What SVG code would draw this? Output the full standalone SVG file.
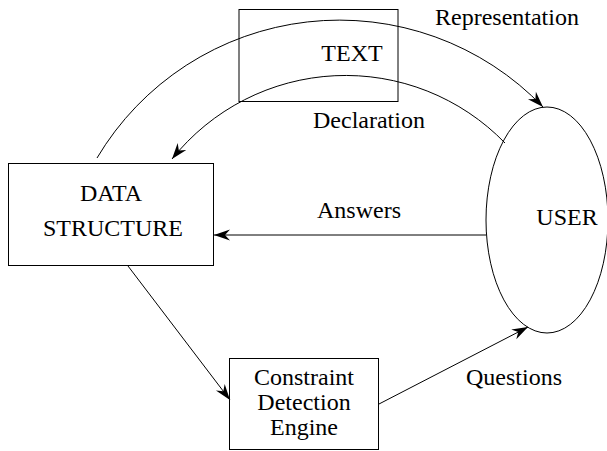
<svg xmlns="http://www.w3.org/2000/svg" width="607" height="451" viewBox="0 0 607 451">
<style>
.box{fill:none;stroke:#000;stroke-width:1}
.conn{fill:none;stroke:#000;stroke-width:1}
text{font-family:"Liberation Serif","Times New Roman",serif;font-size:24px;fill:#000}
</style>
<defs>
<marker id="arr" markerUnits="userSpaceOnUse" markerWidth="18" markerHeight="12" viewBox="-17 -6 18 12" refX="0" refY="0" orient="auto">
<path d="M0,0 L-16,-5.5 L-11,0 L-16,5.5 Z" fill="#000"/>
</marker>
</defs>
<rect width="607" height="451" fill="#fff"/>
<g id="text-node">
<rect class="box" x="239" y="9.5" width="159" height="92"/>
<text x="352" y="61" text-anchor="middle">TEXT</text>
</g>
<g id="data-structure">
<rect class="box" x="8.5" y="163.5" width="205" height="102"/>
<text x="111" y="201" text-anchor="middle">DATA</text>
<text x="113" y="236" text-anchor="middle">STRUCTURE</text>
</g>
<g id="user">
<ellipse class="box" cx="547" cy="220" rx="61" ry="113"/>
<text x="567" y="225" text-anchor="middle">USER</text>
</g>
<g id="constraint-engine">
<rect class="box" x="229.5" y="358.5" width="149" height="91"/>
<text x="304" y="385" text-anchor="middle">Constraint</text>
<text x="304" y="410" text-anchor="middle">Detection</text>
<text x="304" y="435" text-anchor="middle">Engine</text>
</g>
<g id="connectors">
<path class="conn" d="M97,158 A282,282 0 0 1 543,107" marker-end="url(#arr)"/>
<path class="conn" d="M505,143 A222,222 0 0 0 172,159" marker-end="url(#arr)"/>
<path class="conn" d="M486,235 L214,235" marker-end="url(#arr)"/>
<path class="conn" d="M128,266 L230,400" marker-end="url(#arr)"/>
<path class="conn" d="M379,404 L528,327" marker-end="url(#arr)"/>
<text x="435" y="25">Representation</text>
<text x="313" y="128">Declaration</text>
<text x="317" y="218">Answers</text>
<text x="466" y="385">Questions</text>
</g>
</svg>
